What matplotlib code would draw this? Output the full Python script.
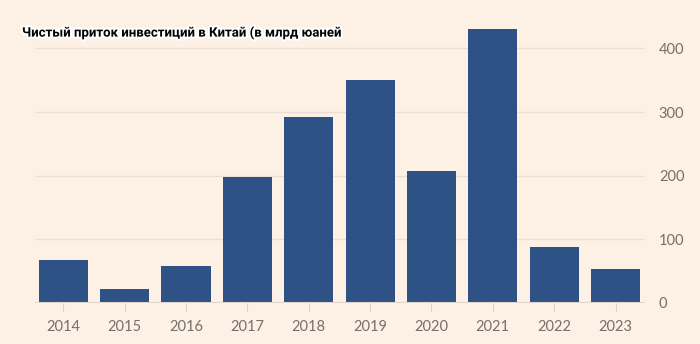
import matplotlib
matplotlib.use("Agg")
import matplotlib.pyplot as plt
import matplotlib.patheffects as pe

years = ["2014", "2015", "2016", "2017", "2018", "2019", "2020", "2021", "2022", "2023"]
inflow = [68, 22, 58, 198, 293, 351, 208, 431, 88, 54]
yticks = [0, 100, 200, 300, 400]

bg = "#FDF0E5"
bar_color = "#2E5285"
grid_color = "#EADFD5"
text_color = "#75706B"

fig = plt.figure(figsize=(7, 3.44), dpi=100, facecolor=bg)
ax = fig.add_axes([35 / 700, 1 - 303 / 344, 610 / 700, (303 - 23) / 344], facecolor=bg)

x = range(len(years))
ax.bar(x, inflow, width=0.8, color=bar_color, zorder=3)

ax.set_xlim(-0.46, 9.48)
ax.set_ylim(0, 440)
ax.set_yticks(yticks)
ax.yaxis.tick_right()
ax.set_xticks(list(x))
ax.set_xticklabels(years)

ax.grid(axis="y", color=grid_color, linewidth=1, zorder=0)
ax.axhline(0, color="#E0D6CC", linewidth=1.5, zorder=4)
for s in ax.spines.values():
    s.set_visible(False)

ax.tick_params(axis="y", length=0, pad=10, labelsize=10.5, labelcolor=text_color)
ax.tick_params(axis="x", length=6, width=0.8, color="#D9CFC5", pad=6,
               labelsize=10.5, labelcolor=text_color)
for lab in ax.get_xticklabels() + ax.get_yticklabels():
    lab.set_family(["Lato", "DejaVu Sans"])

title = fig.text(22 / 700, 1 - 33 / 344, "Чистый приток инвестиций в Китай (в млрд юаней",
                 ha="left", va="center", fontsize=9.5, fontweight="bold",
                 color="black", family=["Roboto", "DejaVu Sans"])
title.set_path_effects([pe.withStroke(linewidth=3, foreground="white")])

fig.savefig("out.png", dpi=100, facecolor=bg)
